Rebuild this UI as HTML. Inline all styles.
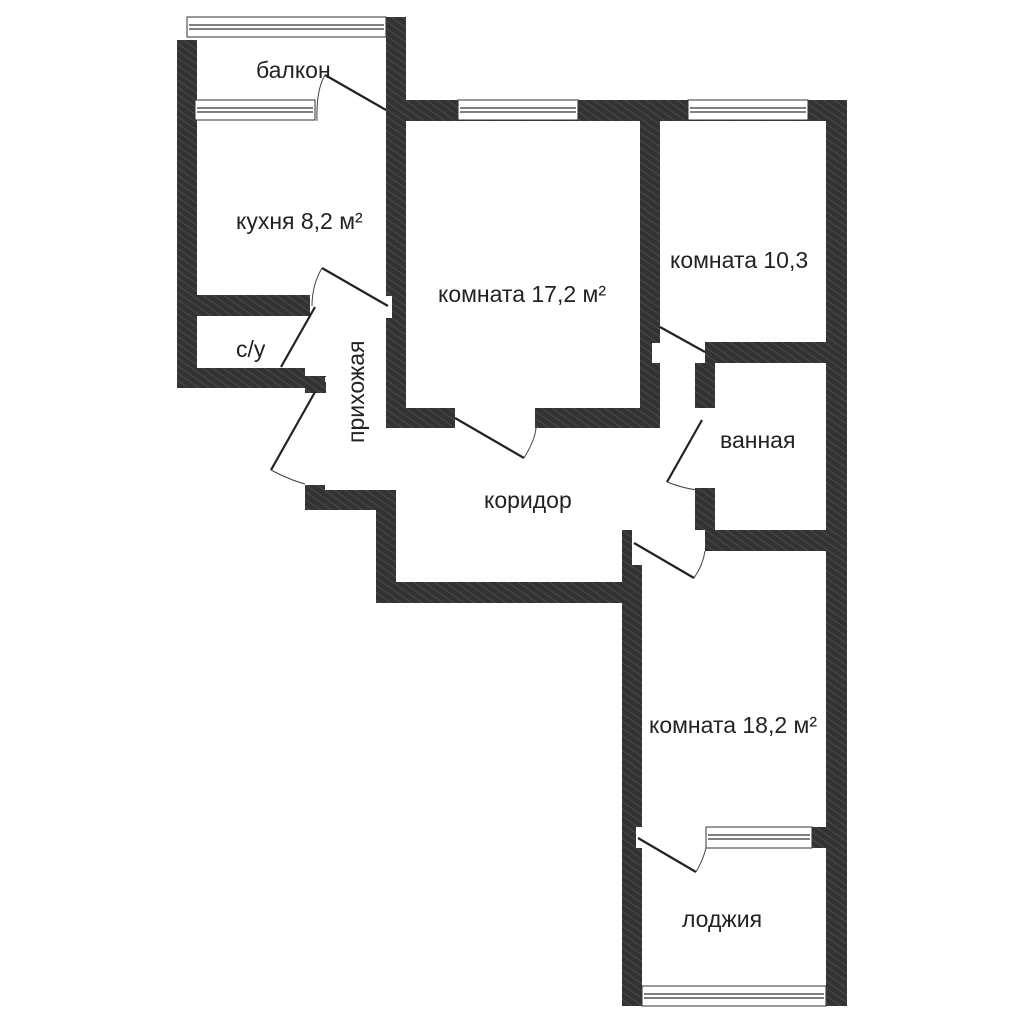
<!DOCTYPE html>
<html><head><meta charset="utf-8"><style>
html,body{margin:0;padding:0;background:#fff;}
svg{display:block;}
text{font-family:"Liberation Sans Narrow","Liberation Sans",sans-serif;fill:#222;font-size:23px;}
</style></head><body>
<svg width="1024" height="1024" viewBox="0 0 1024 1024" xmlns="http://www.w3.org/2000/svg">
<defs>
<pattern id="h" width="6" height="6" patternUnits="userSpaceOnUse" patternTransform="rotate(-55)">
<rect width="6" height="6" fill="#333"/>
<line x1="0" y1="0" x2="0" y2="6" stroke="#5a5a5a" stroke-width="1.2"/>
</pattern>
</defs>
<g fill="url(#h)">
<!-- kitchen left -->
<rect x="177" y="40" width="20" height="348"/>
<!-- kitchen/room divider -->
<rect x="386" y="17" width="20" height="411"/>
<!-- top wall -->
<rect x="406" y="100" width="441" height="21"/>
<!-- room17 right -->
<rect x="640" y="121" width="20" height="307"/>
<!-- room17 bottom -->
<rect x="386" y="408" width="69" height="20"/>
<rect x="535" y="408" width="125" height="20"/>
<!-- outer right -->
<rect x="826" y="100" width="21" height="906"/>
<!-- 10.3/bath -->
<rect x="705" y="342" width="142" height="21"/>
<rect x="695" y="363" width="20" height="45"/>
<rect x="695" y="488" width="20" height="42"/>
<rect x="705" y="530" width="142" height="21"/>
<!-- room18 left -->
<rect x="622" y="530" width="10" height="40"/>
<rect x="622" y="565" width="20" height="441"/>
<!-- corridor bottom -->
<rect x="376" y="582" width="266" height="21"/>
<rect x="376" y="490" width="20" height="113"/>
<rect x="305" y="490" width="91" height="20"/>
<rect x="305" y="485" width="20" height="25"/>
<!-- kitchen/су divider -->
<rect x="197" y="295" width="113" height="21"/>
<rect x="177" y="368" width="128" height="20"/>
<rect x="305" y="376" width="21" height="17"/>
<!-- loggia block -->
<rect x="812" y="827" width="15" height="21"/>
</g>
<!-- white notches -->
<g fill="#fff">
<rect x="386" y="296" width="6" height="22"/>
<rect x="652" y="343" width="8" height="20"/>
<rect x="632" y="530" width="10" height="25"/>
<rect x="636" y="827" width="6" height="21"/>
<rect x="325" y="377" width="6" height="5"/>
</g>
<!-- windows -->
<g fill="#fff" stroke="#333" stroke-width="1">
<rect x="187" y="17" width="199" height="20"/>
<rect x="195" y="100" width="120" height="20"/>
<rect x="458" y="100" width="120" height="20"/>
<rect x="688" y="100" width="120" height="20"/>
<rect x="706" y="827" width="106" height="21"/>
<rect x="642" y="986" width="184" height="20"/>
</g>
<g stroke="#333" stroke-width="1.3">
<line x1="189" y1="25" x2="384" y2="25"/><line x1="189" y1="29" x2="384" y2="29"/>
<line x1="197" y1="108" x2="313" y2="108"/><line x1="197" y1="112" x2="313" y2="112"/>
<line x1="460" y1="108" x2="576" y2="108"/><line x1="460" y1="112" x2="576" y2="112"/>
<line x1="690" y1="108" x2="806" y2="108"/><line x1="690" y1="112" x2="806" y2="112"/>
<line x1="708" y1="835" x2="810" y2="835"/><line x1="708" y1="839" x2="810" y2="839"/>
<line x1="644" y1="994" x2="824" y2="994"/><line x1="644" y1="998" x2="824" y2="998"/>
</g>
<!-- doors -->
<g stroke="#222" stroke-width="2.2" fill="none">
<line x1="386" y1="110" x2="325" y2="75"/>
<line x1="388" y1="306" x2="322" y2="268"/>
<line x1="315" y1="307" x2="281" y2="367"/>
<line x1="315" y1="392" x2="271" y2="470"/>
<line x1="455" y1="418" x2="524" y2="458"/>
<line x1="660" y1="327" x2="705" y2="352"/>
<line x1="702" y1="420" x2="667" y2="482"/>
<line x1="634" y1="543" x2="694" y2="578"/>
<line x1="638" y1="838" x2="696" y2="872"/>
</g>
<g stroke="#444" stroke-width="1" fill="none">
<path d="M325 75 Q316 90 317 121"/>
<path d="M322 268 Q312 285 312 306"/>
<path d="M271 470 Q290 480 305 484"/>
<path d="M524 458 Q535 440 536 428"/>
<path d="M667 482 Q682 488 697 490"/>
<path d="M694 578 Q703 565 705 551"/>
<path d="M696 872 Q703 860 706 848"/>
</g>
<!-- labels -->
<text x="256" y="78">балкон</text>
<text x="236" y="229">кухня 8,2 м²</text>
<text x="438" y="302">комната 17,2 м²</text>
<text x="670" y="268">комната 10,3</text>
<text x="236" y="357">с/у</text>
<text x="720" y="448">ванная</text>
<text x="484" y="508">коридор</text>
<text x="649" y="733">комната 18,2 м²</text>
<text x="682" y="927">лоджия</text>
<text transform="translate(364,443) rotate(-90)">прихожая</text>
</svg>
</body></html>
